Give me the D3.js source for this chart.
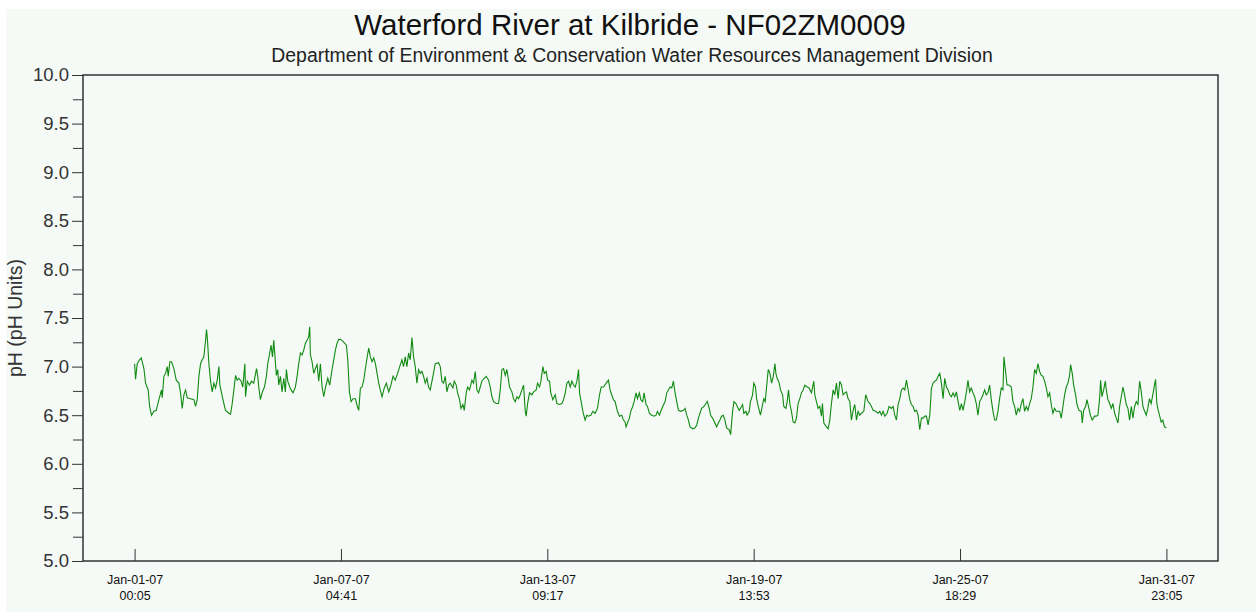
<!DOCTYPE html>
<html>
<head>
<meta charset="utf-8">
<script src="https://cdn.jsdelivr.net/npm/d3@7"></script>
<style>
  body { margin: 0; background: #fff; }
  svg { display: block; font-family: Arial, "Liberation Sans", sans-serif; }
</style>
</head>
<body>
<svg id="chart" width="1256" height="612"></svg>
<script>
// Readings: hours after Jan-01-07 00:05, and pH
const hoursFromStart = [
  0, 0.7, 1.9, 3.6, 4.8, 6.7, 7.9, 9.8, 10.8, 12.2, 13.9, 15.6, 17.5, 19.4, 19.9, 21.1, 22.3, 23.5, 24.2, 25.4,
  26.6, 28.3, 30.0, 31.9, 33.1, 34.3, 35.5, 36.7, 37.9, 40.3, 42.7, 43.9, 45.1, 46.3, 47.5, 48.7, 49.9, 51.1, 51.8, 52.5,
  53.5, 54.7, 55.9, 57.1, 58.3, 59.5, 60.7, 61.4, 62.6, 64.3, 65.5, 67.9, 69.1, 70.3, 71.5, 72.7, 73.9, 75.1, 76.7, 77.9,
  79.4, 79.9, 81.1, 82.7, 84.2, 85.8, 87.8, 88.7, 89.4, 90.6, 91.8, 93.5, 94.9, 95.9, 97.3, 98.3, 99.3, 100.2, 100.9, 102.1,
  103.1, 103.8, 105.0, 106.2, 107.4, 108.6, 109.3, 110.3, 111.7, 112.7, 114.1, 115.8, 117.0, 118.2, 119.4, 120.6, 121.8, 123.0, 124.2, 125.4,
  126.1, 126.6, 127.8, 129.0, 130.2, 131.4, 132.6, 133.8, 135.0, 136.2, 137.4, 139.1, 140.5, 142.2, 143.4, 144.6, 145.8, 147.0, 148.2, 150.1,
  152.5, 153.5, 154.7, 155.9, 157.3, 159.0, 160.2, 161.4, 162.6, 163.8, 165.0, 166.2, 167.4, 168.6, 169.8, 171.0, 172.2, 173.4, 174.6, 175.8,
  176.9, 178.2, 179.8, 181.3, 183.0, 184.2, 186.1, 187.7, 189.4, 190.9, 192.5, 193.7, 194.9, 196.1, 197.3, 198.5, 199.7, 200.9, 202.1, 203.3,
  204.5, 205.7, 206.9, 208.1, 209.3, 210.5, 211.7, 212.9, 214.8, 216.5, 218.9, 220.1, 221.3, 222.5, 223.7, 224.9, 226.1, 227.3, 229.2, 230.2,
  231.6, 232.6, 234.0, 235.0, 236.4, 237.4, 238.8, 239.8, 241.2, 242.9, 244.1, 245.3, 246.5, 247.7, 248.9, 250.1, 251.8, 253.2, 254.9, 256.1,
  257.3, 258.5, 260.4, 262.1, 263.3, 264.5, 265.7, 266.9, 268.1, 270.0, 271.7, 272.9, 274.1, 275.3, 276.5, 277.7, 278.9, 280.1, 281.3, 282.0,
  283.0, 284.4, 286.1, 287.3, 289.2, 290.2, 291.6, 292.6, 294.0, 295.0, 296.4, 297.4, 298.8, 299.7, 301.2, 302.9, 304.1, 306.0, 307.7, 308.9,
  310.1, 311.3, 312.5, 313.7, 314.9, 316.1, 317.3, 318.5, 319.7, 320.4, 321.3, 322.8, 324.4, 325.6, 326.8, 328.5, 330.0, 331.6, 333.3, 334.8,
  336.0, 337.6, 339.6, 341.2, 342.4, 343.6, 344.8, 346.0, 347.7, 349.1, 350.8, 352.0, 353.2, 353.9, 354.9, 356.3, 357.3, 358.7, 359.7, 361.1,
  362.1, 363.5, 364.5, 365.9, 366.9, 368.3, 369.3, 370.7, 372.4, 374.1, 375.5, 376.5, 377.9, 378.9, 380.3, 382.0, 383.2, 384.4, 385.6, 386.8,
  388.0, 389.2, 390.4, 391.6, 393.3, 395.2, 396.4, 397.6, 398.8, 400.0, 401.9, 403.6, 404.8, 406.0, 408.3, 410.0, 411.4, 412.4, 413.8, 414.8,
  416.2, 417.9, 419.1, 420.3, 421.5, 422.7, 423.9, 425.1, 426.3, 428.2, 429.2, 430.6, 431.6, 433.0, 434.0, 435.4, 437.1, 437.8, 438.7, 440.2,
  441.1, 442.6, 443.5, 445.0, 445.9, 447.1, 447.9, 449.1, 450.7, 452.2, 453.1, 454.1, 455.1, 456.3, 457.5, 458.7, 459.9, 461.1, 461.8, 462.7,
  464.2, 465.1, 466.6, 467.5, 469.0, 469.9, 470.9, 471.8, 473.0, 474.2, 475.4, 476.6, 477.8, 479.0, 480.2, 481.4, 482.6, 484.3, 485.7, 487.4,
  489.1, 489.8, 491.0, 492.2, 493.4, 494.6, 495.3, 496.3, 497.7, 499.4, 500.6, 501.8, 503.0, 504.2, 505.4, 506.6, 507.8, 509.0, 510.2, 511.4,
  512.6, 513.8, 515.0, 516.2, 517.4, 518.6, 519.8, 521.0, 522.2, 523.4, 525.1, 526.5, 528.2, 529.4, 530.6, 531.8, 533.7, 535.4, 536.6, 537.8,
  539.0, 540.2, 541.9, 543.3, 545.0, 546.2, 547.4, 548.6, 549.8, 551.0, 552.2, 553.4, 554.6, 555.8, 557.0, 558.2, 559.4, 560.6, 561.8, 563.0,
  564.2, 565.4, 566.6, 567.8, 569.0, 570.2, 571.4, 572.6, 573.8, 575.0, 576.2, 577.4, 578.6, 579.8, 581.0, 582.2, 583.4, 584.6, 585.8, 587.0,
  588.2, 589.4, 590.6, 591.8, 593.0, 594.2, 595.4, 596.6, 597.8, 599.0, 600.1, 601.3, 602.5, 603.7, 604.9, 606.1, 607.3, 608.5, 609.7, 610.9,
  612.1, 613.3, 614.5, 615.7, 616.9, 618.1, 619.3, 620.5, 621.7, 622.9, 624.1, 625.3, 626.0, 627.2, 628.2, 629.6, 631.3, 632.5, 633.7, 634.9,
  636.1, 637.3, 638.5, 639.7, 640.9, 642.1, 643.3, 644.5, 645.7, 646.9, 648.1, 649.3, 650.5, 651.7, 652.9, 654.1, 655.3, 656.5, 657.7, 658.9,
  660.1, 661.3, 662.5, 663.7, 664.9, 666.1, 667.3, 668.5, 669.7, 670.9, 672.1, 673.3, 674.0, 675.2, 676.2, 677.6, 678.6, 680.0, 681.7, 682.4,
  683.4, 684.8, 685.8, 687.2, 688.2, 689.6, 691.3, 692.5, 693.7, 694.9, 695.6, 696.6, 697.8, 699.0, 699.7, 700.9, 702.1, 703.3, 704.5, 705.7,
  706.9, 708.1, 709.3, 710.5, 711.7, 712.9, 714.1, 715.3, 716.5, 717.7, 718.9, 720.1, 721.3, 722.5, 723.7, 724.9, 726.1, 727.3, 728.5, 729.6,
  730.8, 732.0, 733.2, 734.4, 735.2, 736.1, 737.1, 738.0, 739.2, 740.4, 741.6, 743.0
];
const phValues = [
  7.03, 6.87, 7.03, 7.07, 7.09, 6.98, 6.83, 6.76, 6.59, 6.50, 6.54, 6.55, 6.66, 6.76, 6.68, 6.90, 6.93, 7.00, 6.90, 7.05,
  7.05, 6.98, 6.86, 6.83, 6.73, 6.57, 6.71, 6.76, 6.68, 6.67, 6.66, 6.59, 6.66, 6.90, 7.03, 7.07, 7.10, 7.27, 7.38, 7.27,
  7.03, 6.85, 6.74, 6.83, 6.78, 6.86, 7.00, 6.81, 6.73, 6.62, 6.55, 6.52, 6.51, 6.62, 6.76, 6.91, 6.86, 6.88, 6.85, 6.79,
  7.03, 6.69, 6.85, 6.81, 6.85, 6.83, 6.98, 6.90, 6.79, 6.66, 6.73, 6.79, 6.90, 7.03, 7.14, 7.22, 7.10, 7.27, 7.14, 6.91,
  6.97, 6.81, 6.90, 6.74, 6.88, 6.74, 6.97, 6.85, 6.79, 6.76, 6.73, 6.79, 6.90, 7.03, 7.14, 7.12, 7.17, 7.24, 7.27, 7.31,
  7.41, 7.12, 7.05, 6.93, 6.98, 7.02, 6.85, 7.03, 6.79, 6.69, 6.78, 6.88, 6.81, 6.97, 7.07, 7.17, 7.24, 7.28, 7.28, 7.26,
  7.22, 7.07, 6.74, 6.64, 6.67, 6.67, 6.60, 6.55, 6.78, 6.79, 6.86, 6.98, 7.09, 7.19, 7.10, 7.05, 7.09, 7.03, 6.93, 6.83,
  6.76, 6.69, 6.78, 6.83, 6.74, 6.79, 6.90, 6.86, 6.93, 7.00, 7.07, 7.00, 7.10, 7.00, 7.14, 7.07, 7.30, 7.10, 7.00, 6.83,
  6.97, 6.93, 6.95, 6.90, 6.83, 6.88, 6.79, 6.76, 6.90, 7.03, 7.04, 7.00, 6.85, 6.83, 6.90, 6.74, 6.81, 6.83, 6.78, 6.85,
  6.81, 6.73, 6.66, 6.57, 6.61, 6.55, 6.73, 6.79, 6.76, 6.86, 6.83, 6.95, 6.76, 6.73, 6.79, 6.85, 6.88, 6.90, 6.86, 6.79,
  6.69, 6.64, 6.62, 6.62, 6.76, 6.97, 6.98, 6.91, 6.97, 6.79, 6.74, 6.67, 6.64, 6.69, 6.67, 6.71, 6.76, 6.81, 6.54, 6.49,
  6.62, 6.73, 6.71, 6.74, 6.76, 6.83, 6.79, 6.85, 7.00, 6.93, 6.95, 6.86, 6.85, 6.73, 6.66, 6.71, 6.62, 6.61, 6.62, 6.66,
  6.73, 6.83, 6.85, 6.79, 6.85, 6.81, 6.79, 6.85, 6.97, 6.73, 6.66, 6.54, 6.45, 6.50, 6.49, 6.50, 6.54, 6.52, 6.57, 6.71,
  6.79, 6.79, 6.83, 6.86, 6.76, 6.71, 6.66, 6.64, 6.54, 6.49, 6.50, 6.45, 6.43, 6.38, 6.42, 6.47, 6.54, 6.59, 6.64, 6.73,
  6.67, 6.73, 6.66, 6.64, 6.73, 6.61, 6.59, 6.52, 6.50, 6.49, 6.50, 6.54, 6.50, 6.54, 6.59, 6.64, 6.73, 6.76, 6.79, 6.78,
  6.85, 6.73, 6.64, 6.55, 6.54, 6.55, 6.57, 6.50, 6.45, 6.38, 6.36, 6.37, 6.40, 6.47, 6.57, 6.59, 6.62, 6.64, 6.57, 6.50,
  6.47, 6.42, 6.38, 6.42, 6.45, 6.49, 6.50, 6.45, 6.37, 6.35, 6.30, 6.54, 6.64, 6.62, 6.59, 6.55, 6.59, 6.61, 6.52, 6.54,
  6.50, 6.54, 6.64, 6.71, 6.83, 6.79, 6.67, 6.59, 6.50, 6.61, 6.67, 6.64, 6.79, 6.97, 6.93, 6.83, 6.90, 7.03, 6.93, 6.88,
  6.83, 6.76, 6.71, 6.59, 6.57, 6.64, 6.76, 6.62, 6.54, 6.43, 6.42, 6.47, 6.62, 6.67, 6.73, 6.76, 6.81, 6.79, 6.78, 6.73,
  6.85, 6.71, 6.64, 6.57, 6.59, 6.49, 6.62, 6.42, 6.39, 6.36, 6.45, 6.62, 6.76, 6.71, 6.83, 6.67, 6.85, 6.81, 6.71, 6.73,
  6.74, 6.67, 6.64, 6.45, 6.55, 6.61, 6.45, 6.54, 6.50, 6.52, 6.54, 6.71, 6.64, 6.62, 6.59, 6.55, 6.54, 6.52, 6.54, 6.50,
  6.54, 6.49, 6.52, 6.59, 6.57, 6.59, 6.50, 6.45, 6.61, 6.67, 6.76, 6.78, 6.76, 6.86, 6.76, 6.66, 6.61, 6.59, 6.54, 6.55,
  6.50, 6.35, 6.47, 6.47, 6.49, 6.49, 6.40, 6.50, 6.78, 6.83, 6.85, 6.86, 6.90, 6.93, 6.83, 6.67, 6.88, 6.79, 6.76, 6.71,
  6.69, 6.73, 6.69, 6.74, 6.64, 6.55, 6.62, 6.55, 6.64, 6.74, 6.86, 6.74, 6.78, 6.73, 6.69, 6.62, 6.50, 6.64, 6.67, 6.71,
  6.76, 6.71, 6.73, 6.81, 6.66, 6.54, 6.45, 6.45, 6.54, 6.67, 6.78, 6.76, 7.10, 6.95, 6.81, 6.81, 6.79, 6.64, 6.59, 6.50,
  6.57, 6.54, 6.62, 6.67, 6.54, 6.59, 6.55, 6.62, 6.67, 6.79, 6.97, 6.93, 7.03, 6.95, 6.91, 6.90, 6.85, 6.78, 6.69, 6.73,
  6.61, 6.52, 6.57, 6.54, 6.54, 6.54, 6.47, 6.59, 6.71, 6.79, 6.83, 6.91, 7.02, 6.93, 6.81, 6.71, 6.61, 6.55, 6.54, 6.42,
  6.55, 6.59, 6.66, 6.57, 6.50, 6.45, 6.49, 6.49, 6.50, 6.67, 6.86, 6.69, 6.76, 6.85, 6.76, 6.66, 6.62, 6.57, 6.62, 6.52,
  6.47, 6.42, 6.59, 6.69, 6.79, 6.71, 6.61, 6.57, 6.45, 6.59, 6.47, 6.59, 6.64, 6.61, 6.85, 6.74, 6.59, 6.54, 6.50, 6.57,
  6.67, 6.62, 6.71, 6.81, 6.87, 6.62, 6.55, 6.50, 6.43, 6.45, 6.38, 6.37
];
const xTickDates = ["2007-01-01T00:05", "2007-01-07T04:41", "2007-01-13T09:17",
                    "2007-01-19T13:53", "2007-01-25T18:29", "2007-01-31T23:05"];
const yDomain = [5, 10];

const title = "Waterford River at Kilbride - NF02ZM0009";
const subtitle = "Department of Environment & Conservation Water Resources Management Division";
const yLabel = "pH (pH Units)";

// Build the series
const parse = d3.timeParse("%Y-%m-%dT%H:%M");
const start = parse(xTickDates[0]);
const end = parse(xTickDates[xTickDates.length - 1]);
const data = hoursFromStart.map((h, i) => ({
  t: d3.timeMinute.offset(start, Math.round(h * 60)),
  v: phValues[i]
}));

const svg = d3.select("#chart");
const W = 1256, H = 612;
const m = { left: 83, right: 1218, top: 75, bottom: 561 };

// Panel background
svg.append("rect")
  .attr("x", 6).attr("y", 9)
  .attr("width", W - 6).attr("height", H - 9)
  .attr("fill", "#f5faf7");

// 5% padding on either side of the time range
const pad = (end - start) * 0.05;
const x = d3.scaleTime()
  .domain([new Date(+start - pad), new Date(+end + pad)])
  .range([m.left, m.right]);
const y = d3.scaleLinear().domain(yDomain).range([m.bottom, m.top]);

// Y axis, majors with minor ticks between
const yMinor = d3.range(yDomain[0], yDomain[1] + 0.001, 0.25).filter(v => Math.abs(v * 2 - Math.round(v * 2)) > 0.01);
svg.append("g")
  .attr("transform", `translate(${m.left},0)`)
  .call(d3.axisLeft(y).tickValues(yMinor).tickSize(10).tickFormat(""))
  .call(g => g.select(".domain").remove())
  .call(g => g.selectAll("line").attr("stroke", "#333").attr("stroke-width", 1));

svg.append("g")
  .attr("transform", `translate(${m.left},0)`)
  .call(d3.axisLeft(y).tickValues(d3.range(5, 10.01, 0.5)).tickSize(11).tickPadding(3).tickFormat(d3.format(".1f")))
  .call(g => g.select(".domain").remove())
  .call(g => g.selectAll("line").attr("stroke", "#333").attr("stroke-width", 1))
  .call(g => g.selectAll("text")
    .attr("fill", "#333")
    .style("font-size", "18.5px"));

// X axis ticks point inward
const xAxis = svg.append("g")
  .attr("transform", `translate(0,${m.bottom})`)
  .call(d3.axisBottom(x).tickValues(xTickDates.map(parse)).tickSizeInner(-12).tickSizeOuter(0).tickFormat(""))
  .call(g => g.select(".domain").remove())
  .call(g => g.selectAll("line").attr("stroke", "#333").attr("stroke-width", 1));

xAxis.selectAll(".tick").each(function(d) {
  const t = d3.select(this).append("text")
    .attr("fill", "#111")
    .attr("text-anchor", "middle")
    .style("font-size", "12.5px");
  t.append("tspan").attr("x", 0).attr("y", 23).text(d3.timeFormat("%b-%d-%y")(d));
  t.append("tspan").attr("x", 0).attr("y", 39).text(d3.timeFormat("%H:%M")(d));
});

// Plot frame
svg.append("rect")
  .attr("x", m.left).attr("y", m.top)
  .attr("width", m.right - m.left).attr("height", m.bottom - m.top)
  .attr("fill", "none")
  .attr("stroke", "#333")
  .attr("stroke-width", 1.5);

// pH line
svg.append("path")
  .datum(data)
  .attr("fill", "none")
  .attr("stroke", "#108a10")
  .attr("stroke-width", 1.1)
  .attr("d", d3.line().x(d => x(d.t)).y(d => y(d.v)));

// Titles
svg.append("text")
  .attr("x", 630).attr("y", 35)
  .attr("text-anchor", "middle")
  .attr("fill", "#111")
  .style("font-size", "29.5px")
  .text(title);

svg.append("text")
  .attr("x", 632).attr("y", 62)
  .attr("text-anchor", "middle")
  .attr("fill", "#222")
  .style("font-size", "19.4px")
  .text(subtitle);

svg.append("text")
  .attr("transform", `translate(22,${(m.top + m.bottom) / 2}) rotate(-90)`)
  .attr("text-anchor", "middle")
  .attr("fill", "#333")
  .style("font-size", "19.5px")
  .text(yLabel);
</script>
</body>
</html>
